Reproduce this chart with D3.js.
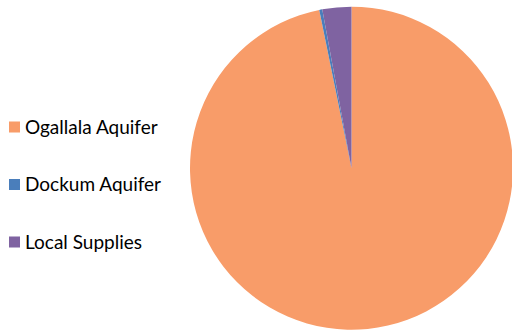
<!DOCTYPE html>
<html>
<head>
<meta charset="utf-8">
<script src="https://cdn.jsdelivr.net/npm/d3@7"></script>
<style>
  html, body { margin: 0; padding: 0; background: #fff; }
  svg { display: block; }
</style>
</head>
<body>
<svg id="chart" width="512" height="333"></svg>
<script>
// Water supply sources (share of total, %)
const categories = ["Ogallala Aquifer", "Dockum Aquifer", "Local Supplies"];
const values = [96.8, 0.3, 2.9];
const colors = ["#F89C69", "#4A7EBB", "#7F63A1"];

const svg = d3.select("#chart");
const cx = 351.5, cy = 168.2, r = 161.5;

const pie = d3.pie().sort(null).value(d => d.value);
const arc = d3.arc().innerRadius(0).outerRadius(r);
const data = categories.map((c, i) => ({ name: c, value: values[i], color: colors[i] }));

svg.append("g")
  .attr("transform", `translate(${cx},${cy})`)
  .selectAll("path")
  .data(pie(data))
  .join("path")
  .attr("d", arc)
  .attr("fill", d => d.data.color);

// Legend
const legendY = d3.scalePoint().domain(categories).range([127, 242]);
const legend = svg.append("g")
  .selectAll("g")
  .data(data)
  .join("g")
  .attr("transform", d => `translate(9,${legendY(d.name)})`);

legend.append("rect")
  .attr("x", 0).attr("y", -5.5)
  .attr("width", 11).attr("height", 11)
  .attr("fill", d => d.color);

legend.append("text")
  .attr("x", 16).attr("y", 0)
  .attr("dy", "0.35em")
  .attr("font-family", "Lato, 'Open Sans', sans-serif")
  .attr("font-size", 19)
  .attr("fill", "#000")
  .text(d => d.name);
</script>
</body>
</html>
